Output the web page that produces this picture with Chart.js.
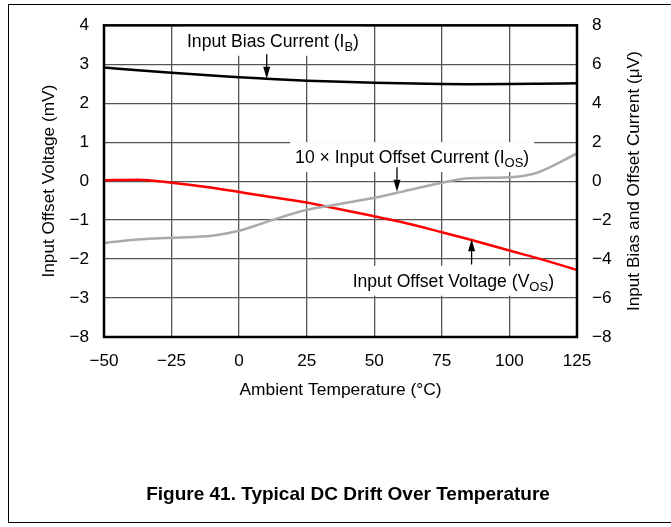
<!DOCTYPE html>
<html><head><meta charset="utf-8">
<script src="https://cdn.jsdelivr.net/npm/chart.js@4.4.1/dist/chart.umd.min.js"></script>
<style>
html,body{margin:0;padding:0;background:#fff;}
#wrap{position:relative;width:671px;height:527px;overflow:hidden;}
#frame{position:absolute;left:8px;top:4px;width:700px;height:519px;border:1.5px solid #000;box-sizing:border-box;}
#c{position:absolute;left:0;top:0;}
#caption{position:absolute;left:0;width:696px;top:483px;text-align:center;font:bold 19px "Liberation Sans",Arial,sans-serif;color:#000;white-space:nowrap;}
</style></head>
<body><div id="wrap"><div id="frame"></div><canvas id="c" width="671" height="527"></canvas><div id="caption">Figure 41. Typical DC Drift Over Temperature</div></div>
<script>
const temperatureC = [-50,-37.5,-25,-10,0,10,25,35,50,60,75,85,100,110,125];
const biasCurrentUA = [5.83,5.69,5.56,5.42,5.33,5.26,5.16,5.11,5.05,5.02,4.99,4.98,4.985,5.00,5.03];
const offsetCurrent10xUA = [-3.17,-3.00,-2.90,-2.80,-2.55,-2.10,-1.47,-1.22,-0.85,-0.55,-0.08,0.15,0.20,0.42,1.42];
const offsetVoltageMV = [0.025,0.035,-0.04,-0.17,-0.28,-0.39,-0.55,-0.69,-0.90,-1.05,-1.31,-1.49,-1.78,-1.97,-2.28];

const xTickValues = [-50,-25,0,25,50,75,100,125];
const xTickLabels = ['\u221250','\u221225','0','25','50','75','100','125'];
const leftTickValues = [4,3,2,1,0,-1,-2,-3,-4];
const leftTickLabels = ['4','3','2','1','0','\u22121','\u22122','\u22123','\u22128'];
const rightTickValues = [8,6,4,2,0,-2,-4,-6,-8];
const rightTickLabels = ['8','6','4','2','0','\u22122','\u22124','\u22126','\u22128'];
const rightTitle = 'Input Bias and Offset Current (\u03bcV)';

const FONT = '"Liberation Sans", Arial, sans-serif';
const MAIN = '17.6px ', SUB = '13px ';

// annotations: text anchored at (temperature, mV) = left/baseline; arrows in same units
const annotations = [
  {parts:[['Input Bias Current (I',0],['B',1],[')',0]], x:-19.3, y:3.45,
   arrow:{x:10.2, from:3.26, to:2.63}},
  {parts:[['10 \u00d7 Input Offset Current (I',0],['OS',1],[')',0]], x:20.7, y:0.465,
   arrow:{x:58.4, from:0.36, to:-0.27}},
  {parts:[['Input Offset Voltage (V',0],['OS',1],[')',0]], x:42, y:-2.71,
   arrow:{x:86, from:-2.14, to:-1.49}}
];

function layoutText(ctx, a){
  let w = 0;
  const items = a.parts.map(([t,sub])=>{
    ctx.font = (sub? SUB : MAIN) + FONT;
    const m = ctx.measureText(t).width;
    const it = {t, sub, off:w, w:m};
    w += m;
    return it;
  });
  return {items, w};
}

const annotPlugin = {
  id:'annot',
  beforeDatasetsDraw(chart){
    const ctx = chart.ctx, xs = chart.scales.x, ys = chart.scales.y;
    ctx.save();
    annotations.forEach(a=>{
      const L = layoutText(ctx,a);
      const px = xs.getPixelForValue(a.x), py = ys.getPixelForValue(a.y);
      ctx.fillStyle = '#fff';
      ctx.fillRect(px-5, py-21, L.w+10, 30);
    });
    ctx.restore();
  },
  afterDatasetsDraw(chart){
    const ctx = chart.ctx, xs = chart.scales.x, ys = chart.scales.y, y2 = chart.scales.y2, ca = chart.chartArea;
    ctx.save();
    ctx.strokeStyle = '#000'; ctx.lineWidth = 2.5;
    ctx.strokeRect(ca.left, ca.top, ca.right-ca.left, ca.bottom-ca.top);
    annotations.forEach(a=>{
      const L = layoutText(ctx,a);
      const px = xs.getPixelForValue(a.x), py = ys.getPixelForValue(a.y);
      ctx.fillStyle = '#000'; ctx.textBaseline = 'alphabetic'; ctx.textAlign='left';
      L.items.forEach(it=>{
        ctx.font = (it.sub? SUB : MAIN) + FONT;
        ctx.fillText(it.t, px+it.off, py + (it.sub?4:0));
      });
      const ax = xs.getPixelForValue(a.arrow.x);
      const y0 = ys.getPixelForValue(a.arrow.from), y1 = ys.getPixelForValue(a.arrow.to);
      const dir = y1 > y0 ? 1 : -1;
      const hl = 12, hw = 3.5;
      ctx.strokeStyle='#000'; ctx.lineWidth=1.3;
      ctx.beginPath(); ctx.moveTo(ax,y0); ctx.lineTo(ax,y1-dir*hl); ctx.stroke();
      ctx.beginPath(); ctx.moveTo(ax,y1); ctx.lineTo(ax-hw,y1-dir*hl); ctx.lineTo(ax+hw,y1-dir*hl); ctx.closePath(); ctx.fill();
    });
    // right axis title, reading bottom-to-top like the left one
    ctx.translate(y2.right - 36.5, (ca.top + ca.bottom)/2);
    ctx.rotate(-Math.PI/2);
    ctx.font = '17.2px ' + FONT;
    ctx.textAlign = 'center'; ctx.textBaseline = 'middle'; ctx.fillStyle = '#000';
    ctx.fillText(rightTitle, 0, 0);
    ctx.restore();
  }
};

const pts = arr => temperatureC.map((t,i)=>({x:t, y:arr[i]}));
const gridOpts = {color:'#555', lineWidth:1.3, drawTicks:false};
const tickFont = {family:FONT, size:17.2};
const titleFont = {family:FONT, size:17.4};

new Chart(document.getElementById('c'), {
  type:'line',
  data:{datasets:[
    {label:'Input Bias Current (IB)', data:pts(biasCurrentUA), yAxisID:'y2', borderColor:'#000', borderWidth:2.5, pointRadius:0, cubicInterpolationMode:'monotone', fill:false},
    {label:'10 × Input Offset Current (IOS)', data:pts(offsetCurrent10xUA), yAxisID:'y2', borderColor:'#aaaaaa', borderWidth:2.5, pointRadius:0, cubicInterpolationMode:'monotone', fill:false},
    {label:'Input Offset Voltage (VOS)', data:pts(offsetVoltageMV), yAxisID:'y', borderColor:'#ff0000', borderWidth:2.5, pointRadius:0, cubicInterpolationMode:'monotone', fill:false}
  ]},
  options:{
    responsive:false, animation:false, events:[],
    layout:{padding:{top:17,left:0,right:0,bottom:126}},
    plugins:{legend:{display:false}, tooltip:{enabled:false}},
    scales:{
      x:{type:'linear', min:-50, max:125,
        ticks:{stepSize:25, color:'#000', font:tickFont, padding:14, autoSkip:false, maxRotation:0,
          callback:v=>{const i=xTickValues.indexOf(v); return i<0?'':xTickLabels[i];}},
        grid:gridOpts, border:{display:false},
        title:{display:true, text:'Ambient Temperature (°C)', color:'#000', font:titleFont, padding:{top:0,bottom:0}},
        afterFit:s=>{s.height=64;}},
      y:{position:'left', min:-4, max:4,
        ticks:{stepSize:1, color:'#000', font:tickFont, padding:15,
          callback:v=>{const i=leftTickValues.indexOf(v); return i<0?'':leftTickLabels[i];}},
        grid:gridOpts, border:{display:false},
        title:{display:true, text:'Input Offset Voltage (mV)', color:'#000', font:{family:FONT,size:17.2}, padding:{top:38.6,bottom:0}},
        afterFit:s=>{s.width=104;}},
      y2:{position:'right', min:-8, max:8,
        ticks:{stepSize:2, color:'#000', font:tickFont, padding:15,
          callback:v=>{const i=rightTickValues.indexOf(v); return i<0?'':rightTickLabels[i];}},
        grid:{display:false, drawTicks:false}, border:{display:false},
        title:{display:false},
        afterFit:s=>{s.width=94;}}
    }
  },
  plugins:[annotPlugin]
});
</script>
</body></html>
